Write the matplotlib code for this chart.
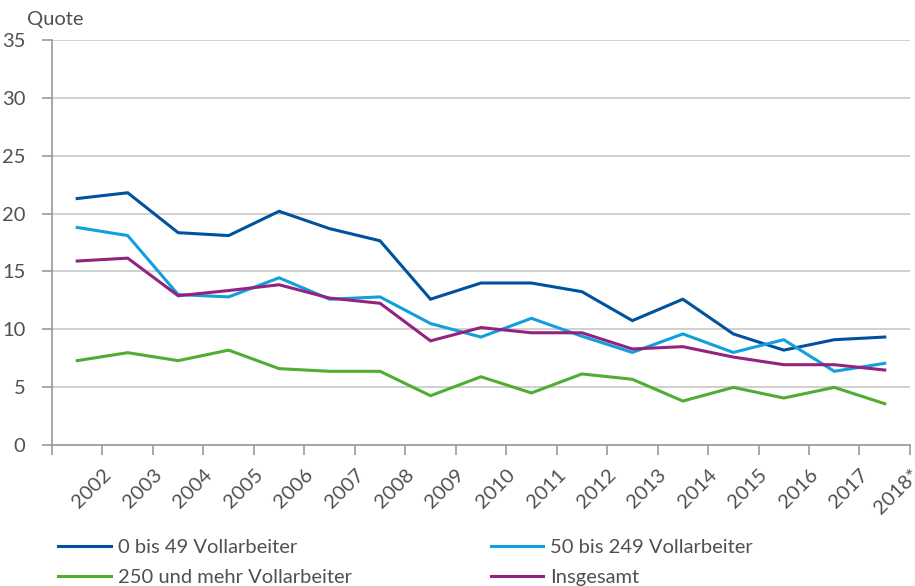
import matplotlib
matplotlib.use("Agg")
import matplotlib.pyplot as plt
import numpy as np

years = ["2002", "2003", "2004", "2005", "2006", "2007", "2008", "2009", "2010",
         "2011", "2012", "2013", "2014", "2015", "2016", "2017", "2018*"]

klein = [21.3, 21.8, 18.35, 18.1, 20.2, 18.7, 17.65, 12.6, 14.0,
         14.0, 13.25, 10.75, 12.6, 9.6, 8.2, 9.1, 9.33]
mittel = [18.8, 18.1, 13.0, 12.8, 14.45, 12.6, 12.8, 10.5, 9.33,
          10.95, 9.4, 8.0, 9.6, 8.0, 9.1, 6.37, 7.06]
gross = [7.29, 7.98, 7.29, 8.2, 6.6, 6.37, 6.37, 4.26, 5.9,
         4.5, 6.14, 5.68, 3.8, 4.98, 4.06, 4.98, 3.57]
gesamt = [15.9, 16.15, 12.9, 13.35, 13.85, 12.7, 12.25, 9.0, 10.15,
          9.7, 9.7, 8.3, 8.5, 7.6, 6.94, 6.94, 6.48]

series = [
    ("0 bis 49 Vollarbeiter", klein, "#00519e"),
    ("250 und mehr Vollarbeiter", gross, "#4fad32"),
    ("50 bis 249 Vollarbeiter", mittel, "#119fdd"),
    ("Insgesamt", gesamt, "#93237e"),
]

text_col = "#505050"
fs = 14.5
plt.rcParams["font.family"] = ["Lato", "DejaVu Sans"]

fig = plt.figure(figsize=(9.15, 5.86), dpi=100)
ax = fig.add_axes([0.0568, 0.2406, 0.9377, 0.6911])

x = np.arange(len(years)) + 0.5
for label, vals, col in series:
    ax.plot(x, vals, color=col, lw=2.2, label=label, solid_joinstyle="miter")

ax.set_xlim(0, len(years))
ax.set_ylim(0, 35)
ax.set_yticks(np.arange(0, 36, 5))
ax.yaxis.grid(True, color="#c8c8c8", lw=1.2)
ax.set_axisbelow(True)

ax.set_xticks(np.arange(0, len(years) + 1))
ax.set_xticklabels([""] + years, rotation=45, ha="right", va="top",
                   rotation_mode="anchor")

for s in ["top", "right"]:
    ax.spines[s].set_visible(False)
for s in ["left", "bottom"]:
    ax.spines[s].set_color("#9a9a9a")
    ax.spines[s].set_linewidth(1.2)

ax.tick_params(axis="y", length=7, color="#9a9a9a", width=1.2,
               labelsize=fs, labelcolor=text_col, pad=12)
ax.tick_params(axis="x", length=7, color="#9a9a9a", width=1.2,
               labelsize=fs, labelcolor=text_col, pad=8)

fig.text(0.03, 0.952, "Quote", fontsize=fs, color=text_col, va="bottom", ha="left")

leg = fig.legend(loc="upper left", bbox_to_anchor=(0.055, 0.094), ncol=2,
                 frameon=False, fontsize=fs, handlelength=2.6, handletextpad=0.35,
                 columnspacing=6.9, labelspacing=0.65, borderaxespad=0)
for t in leg.get_texts():
    t.set_color(text_col)

fig.savefig("out.png", dpi=100)
